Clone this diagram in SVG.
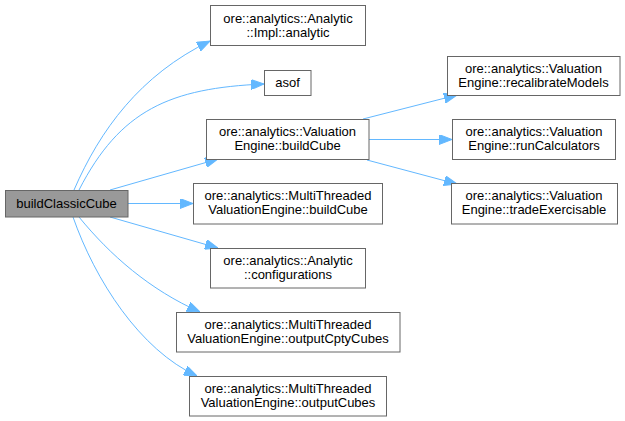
<svg xmlns="http://www.w3.org/2000/svg" width="625" height="421" viewBox="0 0 625 421">
<style>
.n rect{fill:#ffffff;stroke:#666666;stroke-width:1}
.n.root rect{fill:#999999}
.n text{font-family:"Liberation Sans",Arial,sans-serif;font-size:13px;fill:#000000;text-anchor:middle}
.e path{fill:none;stroke:#63b8ff;stroke-width:1;marker-end:url(#ah)}
</style>
<defs>
<marker id="ah" markerUnits="userSpaceOnUse" markerWidth="13" markerHeight="10" refX="13" refY="5" orient="auto">
<path d="M0,0 L13,5 L0,10 z" fill="#63b8ff" stroke="#63b8ff"/>
</marker>
</defs>
<rect width="625" height="421" fill="#ffffff"/>
<g id="edges" class="e">
<path d="M74,190 C100,130 140,75 210,41"/>
<path d="M79,190 C120,110 170,88 264,84"/>
<path d="M110,190 L218,159"/>
<path d="M128,203.5 L193,203.5"/>
<path d="M110,217 L218,248"/>
<path d="M79,217 C110,255 150,290 200,312"/>
<path d="M73,217 C95,280 140,350 197,376"/>
<path d="M363,119 L457,95"/>
<path d="M369,139.5 L452,139.5"/>
<path d="M367,160 L457,184"/>
</g>
<g id="node_root" class="n root"><rect x="5.5" y="190.5" width="122.5" height="26.5"/><text x="66.5" y="208">buildClassicCube</text></g>
<g id="node_impl_analytic" class="n"><rect x="210.5" y="5.5" width="155" height="40"/><text x="288" y="22.5">ore::analytics::Analytic</text><text x="288" y="36.5">::Impl::analytic</text></g>
<g id="node_asof" class="n"><rect x="264.5" y="70.5" width="46.5" height="25"/><text x="287.5" y="87">asof</text></g>
<g id="node_ve_buildcube" class="n"><rect x="206.5" y="119.5" width="162.5" height="40"/><text x="287.5" y="136">ore::analytics::Valuation</text><text x="287.5" y="150">Engine::buildCube</text></g>
<g id="node_mt_buildcube" class="n"><rect x="193.5" y="183.5" width="189" height="40.5"/><text x="288" y="200">ore::analytics::MultiThreaded</text><text x="288" y="214">ValuationEngine::buildCube</text></g>
<g id="node_configurations" class="n"><rect x="210.5" y="248.5" width="155" height="39.5"/><text x="288" y="265">ore::analytics::Analytic</text><text x="288" y="279">::configurations</text></g>
<g id="node_outputcptycubes" class="n"><rect x="176.5" y="312.5" width="223.5" height="39.5"/><text x="288" y="329">ore::analytics::MultiThreaded</text><text x="288" y="343">ValuationEngine::outputCptyCubes</text></g>
<g id="node_outputcubes" class="n"><rect x="189.5" y="376.5" width="197" height="39.5"/><text x="288" y="393">ore::analytics::MultiThreaded</text><text x="288" y="407">ValuationEngine::outputCubes</text></g>
<g id="node_recalibrate" class="n"><rect x="447.5" y="56.5" width="172.5" height="39"/><text x="533.5" y="73">ore::analytics::Valuation</text><text x="533.5" y="87">Engine::recalibrateModels</text></g>
<g id="node_runcalculators" class="n"><rect x="452.5" y="119.5" width="163" height="40"/><text x="534" y="136">ore::analytics::Valuation</text><text x="534" y="150">Engine::runCalculators</text></g>
<g id="node_tradeexercisable" class="n"><rect x="451.5" y="183.5" width="166" height="40.5"/><text x="534" y="200">ore::analytics::Valuation</text><text x="534" y="214">Engine::tradeExercisable</text></g>
</svg>
